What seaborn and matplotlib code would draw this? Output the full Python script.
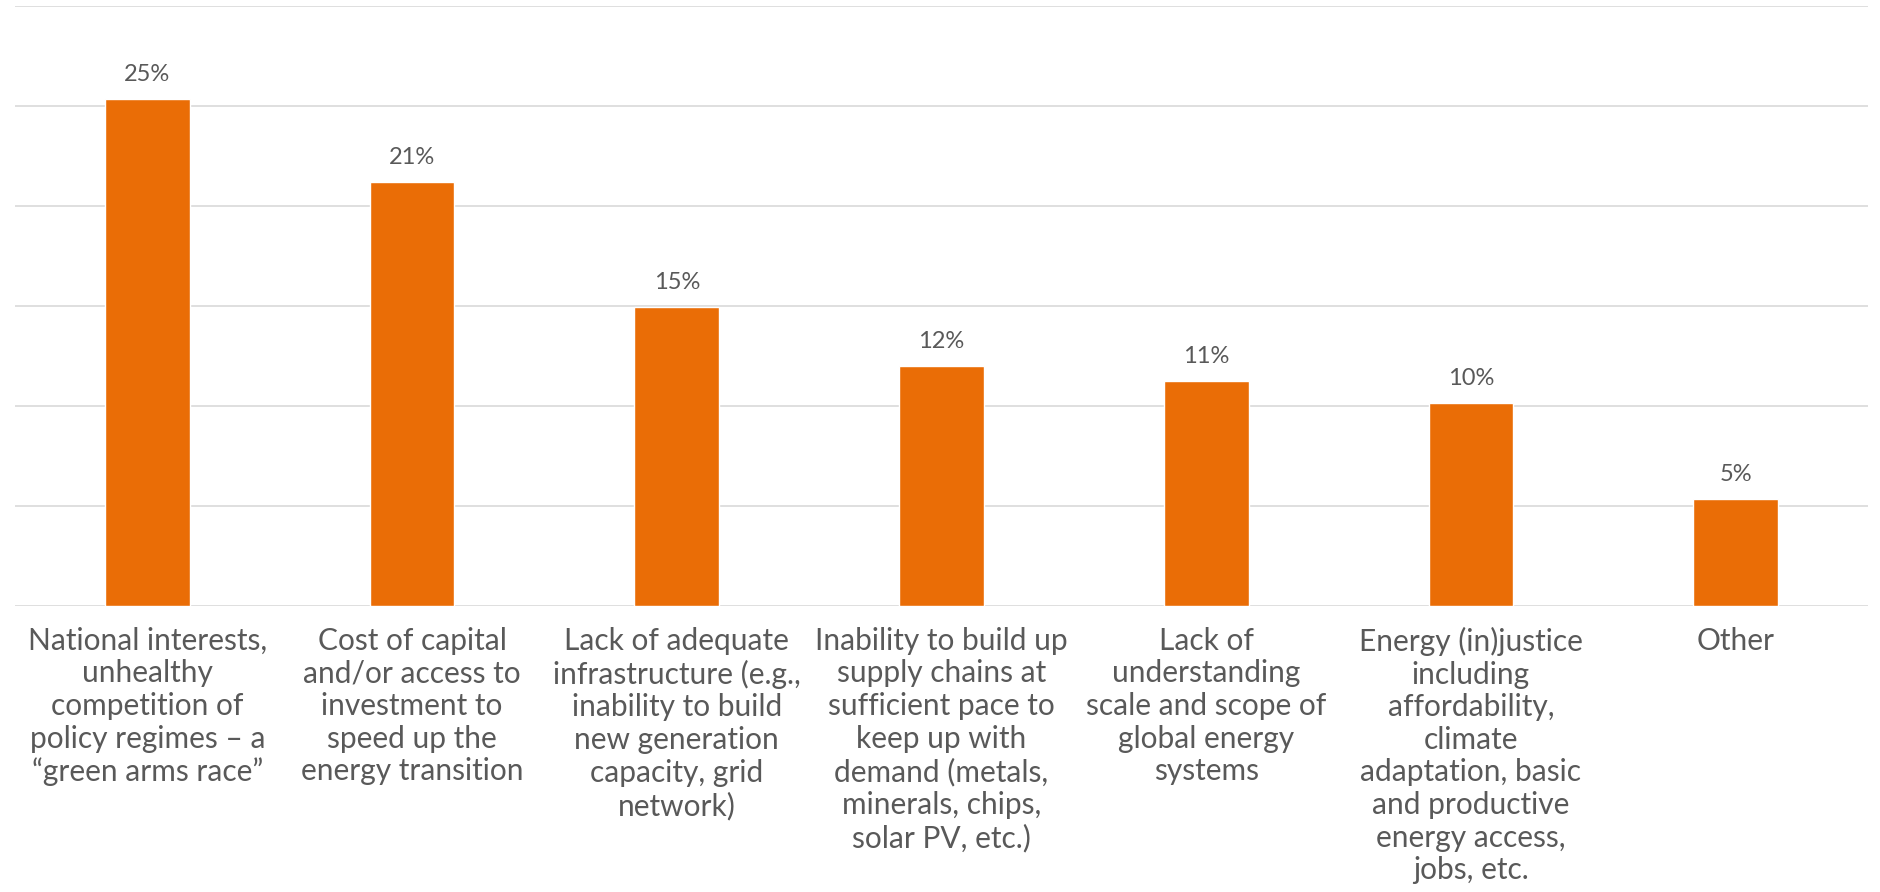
import seaborn as sns
import pandas as pd
import matplotlib.pyplot as plt

# values (percent of respondents)
categories = [
    "National interests,\nunhealthy\ncompetition of\npolicy regimes – a\n“green arms race”",
    "Cost of capital\nand/or access to\ninvestment to\nspeed up the\nenergy transition",
    "Lack of adequate\ninfrastructure (e.g.,\ninability to build\nnew generation\ncapacity, grid\nnetwork)",
    "Inability to build up\nsupply chains at\nsufficient pace to\nkeep up with\ndemand (metals,\nminerals, chips,\nsolar PV, etc.)",
    "Lack of\nunderstanding\nscale and scope of\nglobal energy\nsystems",
    "Energy (in)justice\nincluding\naffordability,\nclimate\nadaptation, basic\nand productive\nenergy access,\njobs, etc.",
    "Other",
]
shares = [25.35, 21.2, 14.95, 12.0, 11.25, 10.15, 5.35]
share_labels = ["25%", "21%", "15%", "12%", "11%", "10%", "5%"]

df = pd.DataFrame({"category": categories, "share": shares})

sns.set_style("white")
plt.rcParams['font.family'] = ['Lato', 'DejaVu Sans']

text_color = "#595959"
bar_color = "#EA6D06"

fig = plt.figure(figsize=(18.8, 8.92), dpi=100)
ax = fig.add_axes([15 / 1880, 1 - 606 / 892, 1853 / 1880, 600 / 892])

sns.barplot(data=df, x="category", y="share", color=bar_color, width=0.32,
            saturation=1, ax=ax)

ax.set_ylim(0, 30)
ax.set_xlim(-0.5, 6.5)
ax.set_yticks(range(0, 31, 5))
ax.yaxis.grid(True, color="#D9D9D9", linewidth=1.2)
ax.set_axisbelow(True)
ax.set_yticklabels([])
ax.tick_params(axis="y", length=0)
ax.tick_params(axis="x", length=0, pad=15, labelsize=21.5, labelcolor=text_color)
for lbl in ax.get_xticklabels():
    lbl.set_linespacing(1.2)
for s in ax.spines.values():
    s.set_visible(False)
ax.set_xlabel("")
ax.set_ylabel("")

ax.bar_label(ax.containers[0], labels=share_labels, padding=10,
             fontsize=17, color=text_color)

plt.savefig("out.png", dpi=100)
